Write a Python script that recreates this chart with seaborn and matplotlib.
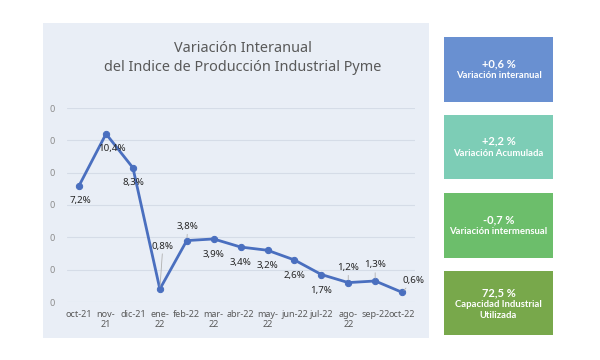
import matplotlib
matplotlib.use("Agg")
import matplotlib.pyplot as plt
import seaborn as sns
import pandas as pd
from matplotlib.patches import Rectangle

# --- Data ---
months = ["oct-21", "nov-21", "dic-21", "ene-22", "feb-22", "mar-22", "abr-22",
          "may-22", "jun-22", "jul-22", "ago-22", "sep-22", "oct-22"]
tick_labels = ["oct-21", "nov-\n21", "dic-21", "ene-\n22", "feb-22", "mar-\n22", "abr-22",
               "may-\n22", "jun-22", "jul-22", "ago-\n22", "sep-22", "oct-22"]
variacion = [7.2, 10.4, 8.3, 0.8, 3.8, 3.9, 3.4, 3.2, 2.6, 1.7, 1.2, 1.3, 0.6]
y_ticks = [0, 2, 4, 6, 8, 10, 12]
y_tick_labels = ["0"] * 7  # the reference only shows the last digit

box_values = ["+0,6 %", "+2,2 %", "-0,7 %", "72,5 %"]
box_names = ["Variación interanual", "Variación Acumulada", "Variación intermensual",
             "Capacidad Industrial\nUtilizada"]

title = "Variación Interanual\ndel Indice de Producción Industrial Pyme"

# --- Styling ---
sns.set_style("white")
plt.rcParams["font.family"] = ["Noto Sans", "DejaVu Sans"]

line_color = "#4A6FBF"
panel_color = "#E9EEF6"
grid_color = "#D5DCE7"
box_colors = ["#6990D1", "#7DCDB6", "#6CBE6B", "#78A84B"]

# label offsets in pixels (dx, dy) and whether a leader line is drawn
label_offsets = [(1, -15), (6, -15), (0, -15), (3, 43), (1, 14), (0, -16), (0, -15),
                 (0, -15), (0, -16), (0, -16), (0, 15), (0, 16), (11, 12)]
leaders = [False, False, False, True, True, False, False, False, False, False, True, True, True]

df = pd.DataFrame({"x": range(len(months)), "mes": months, "valor": variacion})

fig = plt.figure(figsize=(6, 3.6), dpi=100)
W, H = 600, 360

def px(x0, y0, x1, y1):
    return [x0 / W, (H - y1) / H, (x1 - x0) / W, (y1 - y0) / H]

# --- Chart panel background ---
l, b, w, h = px(43, 23, 429, 338)
fig.patches.append(Rectangle((l, b), w, h, transform=fig.transFigure,
                             facecolor=panel_color, edgecolor="none", zorder=-5))

fig.text(243 / W, 1 - 58 / H, title, ha="center", va="center", fontsize=10.4,
         color="#595959", linespacing=1.45)

ax = fig.add_axes(px(67, 108, 415, 302))
ax.set_zorder(2)
ax.set_facecolor("none")
sns.lineplot(data=df, x="x", y="valor", ax=ax, color=line_color, linewidth=2.0,
             marker="o", markersize=4.5, markeredgecolor=line_color)

ax.set_xlim(-0.45, 12.48)
ax.set_ylim(0, 12)
ax.set_yticks(y_ticks)
ax.set_yticklabels(y_tick_labels)
ax.set_xticks(df["x"])
ax.set_xticklabels(tick_labels, linespacing=1.1)
ax.set_xlabel("")
ax.set_ylabel("")
ax.grid(axis="y", color=grid_color, linewidth=0.8)
ax.set_axisbelow(True)
for s in ax.spines.values():
    s.set_visible(False)
ax.tick_params(axis="y", length=0, pad=9, labelsize=6.5, labelcolor="#8c8c8c")
ax.tick_params(axis="x", length=0, pad=6, labelsize=6.5, labelcolor="#595959")

for i, v in enumerate(variacion):
    dx, dy = label_offsets[i]
    lab = f"{v:.1f}%".replace(".", ",")
    arrow = dict(arrowstyle="-", color="#b0b0b0", lw=0.6, shrinkA=0, shrinkB=2) if leaders[i] else None
    ax.annotate(lab, (i, v), xytext=(dx, dy), textcoords="offset pixels",
                ha="center", va="center", fontsize=7, fontweight="bold",
                color="#262626", arrowprops=arrow, annotation_clip=False)

# --- Indicator boxes ---
box_y = [(37, 102), (115, 179), (193, 258), (271, 335)]
for (y0, y1), c, val, name in zip(box_y, box_colors, box_values, box_names):
    l, b, w, h = px(444, y0, 553, y1)
    fig.patches.append(Rectangle((l, b), w, h, transform=fig.transFigure,
                                 facecolor=c, edgecolor="none", zorder=-5))
    n_names = name.count("\n") + 1
    yc = (y0 + y1) / 2
    val_y = yc - 6 - (n_names - 1) * 4
    name_y = val_y + 12 + (n_names - 1) * 5
    fig.text(498.5 / W, 1 - val_y / H, val, ha="center", va="center", fontsize=8,
             fontweight="bold", color="white", family=["Lato", "DejaVu Sans"])
    fig.text(498.5 / W, 1 - name_y / H, name, ha="center", va="center", fontsize=6.8,
             fontweight="bold", color="white", family=["Lato", "DejaVu Sans"],
             linespacing=1.25)

fig.savefig("out.png", dpi=100)
